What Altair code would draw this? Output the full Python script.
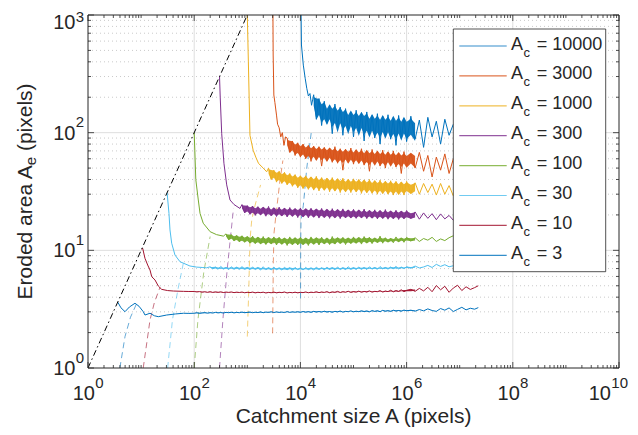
import altair as alt
import pandas as pd

W, H = 531, 353
FONT = "Liberation Sans"
INK = "#262626"

# ---------------- data ----------------
# sample positions (log10 of catchment size) shared by the noisy plateaus
LOG_A_GRID = [
    2.00, 2.05, 2.10, 2.15, 2.20, 2.25, 2.30, 2.35, 2.40, 2.45,
    2.50, 2.55, 2.60, 2.65, 2.70, 2.75, 2.80, 2.85, 2.90, 2.95,
    3.00, 3.05, 3.10, 3.15, 3.20, 3.25, 3.30, 3.35, 3.40, 3.45,
    3.50, 3.55, 3.60, 3.65, 3.70, 3.75, 3.80, 3.85, 3.90, 3.95,
    4.00, 4.05, 4.10, 4.15, 4.20, 4.25, 4.30, 4.35, 4.40, 4.45,
    4.50, 4.55, 4.60, 4.65, 4.70, 4.75, 4.80, 4.85, 4.90, 4.95,
    5.00, 5.05, 5.10, 5.15, 5.20, 5.25, 5.30, 5.35, 5.40, 5.45,
    5.50, 5.55, 5.60, 5.65, 5.70, 5.75, 5.80, 5.85, 5.90, 5.95,
    6.00, 6.08, 6.16, 6.24, 6.32, 6.40, 6.48, 6.56, 6.64, 6.72,
    6.80, 6.88, 6.96, 7.04, 7.12, 7.20, 7.28, 7.35,
]
DENSE_UNTIL = 6.16   # noise looks like a solid band up to about here

SERIES_AC = [10000, 3000, 1000, 300, 100, 30, 10, 3]
SERIES_COLOR = ["#0072BD", "#D95319", "#EDB120", "#7E2F8E",
                "#77AC30", "#4DBEEE", "#A2142F", "#0072BD"]
PLATEAU_START = [4.25, 3.75, 3.40, 2.90, 2.60, 2.30, 2.00, 2.00]

# initial drop from the diagonal (log10 A, A_e)
HEAD_10000 = [(4.0, 10000), (4.005, 2000), (4.02, 556), (4.055, 375), (4.09, 290),
              (4.12, 238), (4.15, 205), (4.18, 215), (4.21, 171), (4.23, 190)]
HEAD_3000 = [(3.477, 3000), (3.487, 457), (3.50, 209), (3.52, 180), (3.55, 141),
             (3.57, 118), (3.60, 110), (3.63, 92), (3.66, 100), (3.69, 78), (3.72, 92)]
HEAD_1000 = [(3.0, 1000), (3.02, 400), (3.05, 95), (3.11, 71), (3.16, 62),
             (3.21, 55), (3.26, 52), (3.30, 50), (3.365, 46.5)]
HEAD_300 = [(2.477, 300), (2.49, 200), (2.518, 98), (2.56, 55), (2.612, 36),
            (2.674, 26.8), (2.75, 24.5), (2.862, 22.7)]
HEAD_100 = [(2.0, 100), (2.012, 70), (2.03, 40), (2.077, 26.8), (2.11, 20.6),
            (2.17, 17.0), (2.30, 14.4), (2.42, 13.6), (2.55, 13.2)]
HEAD_30 = [(1.49, 30.9), (1.525, 20.6), (1.544, 14.9), (1.576, 11.5), (1.638, 9.12),
           (1.733, 8.0), (1.92, 7.36), (2.05, 7.2), (2.15, 7.15), (2.235, 7.1)]
HEAD_10 = [(1.01, 10.2), (1.03, 10.4), (1.073, 8.55), (1.124, 7.5), (1.168, 6.8),
           (1.20, 5.97), (1.262, 5.6), (1.324, 4.97), (1.387, 4.66), (1.50, 4.55),
           (1.607, 4.51), (1.80, 4.48), (1.90, 4.47)]
HEAD_3 = [(0.56, 3.63), (0.62, 3.25), (0.697, 3.01), (0.78, 3.3), (0.885, 3.55),
          (0.96, 3.35), (1.041, 3.01), (1.073, 2.82), (1.168, 2.92), (1.25, 2.78),
          (1.324, 2.73), (1.482, 2.82), (1.65, 2.88), (1.80, 2.92), (1.90, 2.91)]

# noisy plateaus, aligned with LOG_A_GRID from PLATEAU_START on
PLAT_10000 = [210, 130, 195, 115, 185, 120, 170, 98, 175, 110, 165, 95, 160, 105, 150, 92,
              155, 100, 148, 85, 150, 95, 140, 90, 145, 80, 138, 92, 142, 88, 135, 78, 140, 90, 132, 84,
              138, 88, 128, 75, 135, 92, 125, 80, 130, 95, 118, 110, 105, 100]
PLAT_3000 = [90, 68, 85, 64, 82, 62,
             80, 60, 78, 57, 77, 59, 76, 52, 75, 58, 74, 56, 76, 55, 73, 48, 72, 56, 74, 54,
             71, 55, 73, 53, 70, 47, 72, 54, 69, 52, 71, 50, 68, 53, 70, 51, 67, 45, 69, 52,
             66, 50, 68, 47, 64, 42, 62, 48, 66, 45, 60, 56, 58, 60]
PLAT_1000 = [50, 40, 48, 38, 47, 37, 46, 36, 45, 35, 44, 34, 43,
             33.5, 43, 33, 42, 32.5, 42.5, 32, 41.5, 32.5, 41, 31.5, 41.5, 32, 40.5, 31, 41, 31.5, 40, 31, 40.5,
             31.5, 40, 30.5, 39.5, 31, 40, 30.5, 39, 30, 39.5, 30.5, 38.5, 30, 39, 29.5, 38.5, 30, 38, 29.5, 38.5,
             30.5, 37.5, 30, 37, 31, 36.5, 29.5, 37, 30, 35.5, 29, 36, 33, 34]
PLAT_300 = [24.5, 20.8, 24.0,
            20.2, 23.8, 19.8, 23.5, 20.0, 23.2, 19.5, 23.6, 19.7, 22.9, 19.4, 23.3, 19.6, 22.8, 19.2, 23.1, 19.5, 22.6, 19.0, 22.9,
            19.3, 22.5, 18.9, 22.8, 19.2, 22.4, 18.8, 22.7, 19.1, 22.2, 18.7, 22.6, 19.0, 22.1, 18.6, 22.5, 18.9, 22.0, 18.8, 22.3,
            18.7, 21.9, 18.9, 22.4, 18.6, 21.8, 18.8, 22.1, 18.5, 21.7, 18.7, 22.2, 18.4, 21.6, 18.6, 21.9, 18.3, 21.5, 18.5, 21.8,
            18.6, 21.2, 18.4, 20.8, 18.7, 20.5, 18.2, 20.4, 18.5, 19.8, 18.0, 19.5, 19.2, 19.0]
PLAT_100 = [13.8, 12.3, 13.6, 12.0, 13.4, 11.8, 13.3, 11.7, 13.1,
            11.5, 13.2, 11.4, 12.9, 11.3, 13.1, 11.2, 12.8, 11.4, 13.0, 11.1, 12.9, 11.3, 12.7, 11.0, 13.0, 11.2, 12.8, 11.1, 12.9,
            11.2, 12.7, 11.0, 13.0, 11.3, 12.8, 11.1, 12.9, 11.4, 12.6, 11.2, 13.1, 11.3, 12.8, 11.5, 12.9, 11.2, 12.7, 11.4, 13.0,
            11.5, 12.8, 11.3, 13.1, 11.6, 12.9, 11.4, 12.7, 11.7, 13.2, 11.5, 12.8, 11.8, 12.6, 11.6, 13.0, 11.9, 12.7, 11.7, 12.9,
            12.0, 12.8, 11.9, 12.6, 12.2, 12.9, 11.9, 12.5, 12.1, 12.8, 13.3, 13.6, 13.5, 13.2]
PLAT_30 = [7.25, 6.95, 7.20, 6.90, 7.30, 6.95, 7.15, 6.85, 7.25, 6.92, 7.18, 6.88, 7.28, 6.90, 7.15,
           6.85, 7.22, 6.88, 7.12, 6.80, 7.25, 6.86, 7.10, 6.82, 7.20, 6.85, 7.08, 6.80, 7.18, 6.84, 7.12, 6.78, 7.15, 6.86, 7.05,
           6.82, 7.16, 6.85, 7.08, 6.80, 7.20, 6.88, 7.10, 6.83, 7.18, 6.90, 7.12, 6.84, 7.22, 6.88, 7.10, 6.86, 7.25, 6.90, 7.12,
           6.88, 7.20, 6.92, 7.15, 6.86, 7.24, 6.94, 7.12, 6.90, 7.28, 6.95, 7.15, 6.92, 7.22, 6.98, 7.30, 6.95, 7.18, 7.00, 7.25,
           7.05, 7.35, 7.08, 7.22, 7.45, 7.15, 7.60, 7.30, 7.55, 7.25, 7.40, 7.20, 7.30, 7.40, 7.35]
PLAT_10 = [4.47, 4.43, 4.46, 4.41, 4.44, 4.40, 4.45, 4.39, 4.43, 4.40, 4.44, 4.38, 4.42, 4.39, 4.43, 4.37, 4.41, 4.38, 4.42, 4.36, 4.40,
           4.37, 4.42, 4.35, 4.40, 4.37, 4.41, 4.34, 4.39, 4.36, 4.42, 4.35, 4.40, 4.37, 4.43, 4.34, 4.39, 4.36, 4.41, 4.35, 4.40,
           4.37, 4.43, 4.36, 4.41, 4.38, 4.45, 4.37, 4.42, 4.39, 4.46, 4.36, 4.43, 4.40, 4.48, 4.38, 4.44, 4.41, 4.49, 4.39, 4.45,
           4.42, 4.50, 4.40, 4.47, 4.43, 4.52, 4.41, 4.48, 4.45, 4.55, 4.42, 4.50, 4.46, 4.58, 4.44, 4.53, 4.48, 4.62, 4.45, 4.57,
           4.66, 4.48, 4.75, 4.52, 4.85, 4.45, 5.02, 4.62, 4.95, 4.40, 4.78, 5.05, 4.55, 4.90, 4.65, 4.82, 5.00]
PLAT_3 = [2.92, 2.95, 2.91, 2.94, 2.96, 2.92, 2.95, 2.93, 2.97, 2.94, 2.96, 2.93, 2.97, 2.95, 2.98, 2.94, 2.97, 2.95, 2.99, 2.95, 2.97,
          2.99, 2.95, 2.98, 2.96, 3.00, 2.95, 2.99, 2.97, 3.01, 2.96, 3.00, 2.97, 2.99, 2.96, 3.02, 2.97, 3.00, 2.98, 3.01, 2.97,
          3.02, 2.98, 3.01, 2.97, 3.03, 2.99, 3.02, 2.98, 3.04, 2.99, 3.02, 2.97, 3.03, 3.00, 3.05, 2.98, 3.03, 3.01, 3.06, 3.00,
          3.04, 3.01, 3.07, 3.02, 3.05, 3.00, 3.08, 3.03, 3.06, 3.01, 3.09, 3.04, 3.07, 3.02, 3.10, 3.05, 3.08, 3.03, 3.11, 3.06,
          3.10, 3.04, 3.14, 3.06, 3.18, 3.08, 3.03, 3.20, 3.10, 3.24, 3.02, 3.15, 3.28, 3.12, 3.22, 3.16, 3.26]

# dashed rising limbs (log10 A, A_e)
RISE_10000 = [(4.003, 3.9), (4.006, 12), (4.012, 18), (4.055, 24), (4.12, 50), (4.21, 105)]
RISE_3000 = [(3.477, 1.97), (3.49, 8), (3.503, 14), (3.54, 20), (3.616, 39.5), (3.67, 58)]
RISE_1000 = [(3.0, 1.85), (3.03, 5.0), (3.05, 12.2), (3.083, 18), (3.145, 24), (3.25, 36)]
RISE_300 = [(2.477, 1.0), (2.54, 2.56), (2.62, 6.8), (2.68, 12.5), (2.74, 22.7)]
RISE_100 = [(2.0, 1.0), (2.07, 2.56), (2.18, 6.5), (2.30, 13.1)]
RISE_30 = [(1.50, 1.0), (1.59, 2.56), (1.70, 4.8), (1.795, 7.76)]
RISE_10 = [(1.04, 1.0), (1.168, 2.56), (1.25, 3.6), (1.356, 4.85)]
RISE_3 = [(0.60, 1.0), (0.697, 1.85), (0.80, 2.7), (0.917, 3.54)]

HEADS = [HEAD_10000, HEAD_3000, HEAD_1000, HEAD_300, HEAD_100, HEAD_30, HEAD_10, HEAD_3]
PLATS = [PLAT_10000, PLAT_3000, PLAT_1000, PLAT_300, PLAT_100, PLAT_30, PLAT_10, PLAT_3]
RISES = [RISE_10000, RISE_3000, RISE_1000, RISE_300, RISE_100, RISE_30, RISE_10, RISE_3]

DIAG_A = [1, 1000]

X_MAJOR = [1, 1e2, 1e4, 1e6, 1e8, 1e10]
X_EXP = ["0", "2", "4", "6", "8", "10"]
Y_MAJOR = [1, 10, 100, 1000]
Y_EXP = ["0", "1", "2", "3"]
X_MINOR = [m * 10 ** k for k in range(10) for m in range(2, 10)] + [10 ** k for k in (1, 3, 5, 7, 9)]
Y_MINOR = [m * 10 ** k for k in range(3) for m in range(2, 10)]

# ---------------- chart ----------------
xs = alt.Scale(type="log", domain=[1, 1e10], nice=False)
ys = alt.Scale(type="log", domain=[1, 1000], nice=False)
DUMMY = pd.DataFrame({"k": [0]})


def X(f):
    return alt.X(f"{f}:Q", scale=xs, axis=None)


def Y(f):
    return alt.Y(f"{f}:Q", scale=ys, axis=None)


layers = []

# grid
layers.append(alt.Chart(pd.DataFrame({"v": Y_MINOR})).mark_rule(
    color="#BDBDBD", strokeWidth=0.8, strokeDash=[1, 3]).encode(
    y=Y("v"), x=alt.value(0), x2=alt.value(W)))
layers.append(alt.Chart(pd.DataFrame({"v": [10, 100]})).mark_rule(
    color="#DEDEDE", strokeWidth=1).encode(y=Y("v"), x=alt.value(0), x2=alt.value(W)))
layers.append(alt.Chart(pd.DataFrame({"v": X_MAJOR[1:-1]})).mark_rule(
    color="#DEDEDE", strokeWidth=1).encode(x=X("v"), y=alt.value(0), y2=alt.value(H)))

# series
for ac, col, head, start, plat, rise in zip(SERIES_AC, SERIES_COLOR, HEADS,
                                            PLATEAU_START, PLATS, RISES):
    idx = LOG_A_GRID.index(start)
    pts = list(head) + list(zip(LOG_A_GRID[idx:], plat))
    df = pd.DataFrame(pts, columns=["la", "ae"])
    df["A"] = 10 ** df["la"]
    df["o"] = range(len(df))
    # dense band: inner envelope of the plateau samples
    pl = pd.DataFrame(list(zip(LOG_A_GRID[idx:], plat)), columns=["la", "ae"])
    roll = pl["ae"].rolling(5, center=True, min_periods=2)
    pl["lo"] = roll.quantile(0.3)
    pl["hi"] = roll.quantile(0.7)
    pl["A"] = 10 ** pl["la"]
    pl = pl[pl["la"] <= DENSE_UNTIL]
    dr = pd.DataFrame(rise, columns=["la", "ae"])
    dr["A"] = 10 ** dr["la"]
    dr["o"] = range(len(dr))
    layers.append(alt.Chart(dr).mark_line(color=col, strokeWidth=1, opacity=0.6,
                                          strokeDash=[6, 4], clip=True).encode(
        x=X("A"), y=Y("ae"), order="o:Q"))
    layers.append(alt.Chart(pl).mark_area(color=col, opacity=0.95, clip=True).encode(
        x=X("A"), y=Y("lo"), y2=alt.Y2("hi")))
    layers.append(alt.Chart(df).mark_line(color=col, strokeWidth=1, clip=True).encode(
        x=X("A"), y=Y("ae"), order="o:Q"))

# diagonal A_e = A
ddf = pd.DataFrame({"A": DIAG_A, "ae": DIAG_A})
layers.append(alt.Chart(ddf).mark_line(color="black", strokeWidth=1,
                                       strokeDash=[6, 3, 1.5, 3], clip=True).encode(
    x=X("A"), y=Y("ae")))

# legend
LX0, LX1, LY0, LY1 = 365.3, 517.7, 14, 256.7
LEG_Y0, LEG_DY = 31, 29.9
layers.append(alt.Chart(DUMMY).mark_rect(fill="white", stroke=INK, strokeWidth=0.8).encode(
    x=alt.value(LX0), x2=alt.value(LX1), y=alt.value(LY0), y2=alt.value(LY1)))
for i, (ac, col) in enumerate(zip(SERIES_AC, SERIES_COLOR)):
    ly = LEG_Y0 + LEG_DY * i
    layers.append(alt.Chart(DUMMY).mark_rule(color=col, strokeWidth=1.2, opacity=0.8).encode(
        x=alt.value(371.3), x2=alt.value(418.7), y=alt.value(ly)))
    layers.append(alt.Chart(DUMMY).mark_text(text="A", font=FONT, fontSize=18, color=INK,
                                             align="left", baseline="alphabetic").encode(
        x=alt.value(423), y=alt.value(ly + 3.5)))
    layers.append(alt.Chart(DUMMY).mark_text(text="c", font=FONT, fontSize=13, color=INK,
                                             align="left", baseline="alphabetic").encode(
        x=alt.value(435.5), y=alt.value(ly + 10.5)))
    layers.append(alt.Chart(DUMMY).mark_text(text=f"= {ac}", font=FONT, fontSize=18, color=INK,
                                             align="left", baseline="alphabetic").encode(
        x=alt.value(448.7), y=alt.value(ly + 3.5)))

# inward ticks on all four sides
xmaj = pd.DataFrame({"v": X_MAJOR})
xmin = pd.DataFrame({"v": X_MINOR})
ymaj = pd.DataFrame({"v": Y_MAJOR})
ymin = pd.DataFrame({"v": Y_MINOR})
for d, ln in ((xmaj, 6), (xmin, 3)):
    layers.append(alt.Chart(d).mark_rule(color=INK, strokeWidth=0.8).encode(
        x=X("v"), y=alt.value(H), y2=alt.value(H - ln)))
    layers.append(alt.Chart(d).mark_rule(color=INK, strokeWidth=0.8).encode(
        x=X("v"), y=alt.value(0), y2=alt.value(ln)))
for d, ln in ((ymaj, 6), (ymin, 3)):
    layers.append(alt.Chart(d).mark_rule(color=INK, strokeWidth=0.8).encode(
        y=Y("v"), x=alt.value(0), x2=alt.value(ln)))
    layers.append(alt.Chart(d).mark_rule(color=INK, strokeWidth=0.8).encode(
        y=Y("v"), x=alt.value(W), x2=alt.value(W - ln)))

# frame
layers.append(alt.Chart(DUMMY).mark_rule(color=INK, strokeWidth=1).encode(
    x=alt.value(0), x2=alt.value(W), y=alt.value(0)))
layers.append(alt.Chart(DUMMY).mark_rule(color=INK, strokeWidth=1).encode(
    x=alt.value(0), x2=alt.value(W), y=alt.value(H)))
layers.append(alt.Chart(DUMMY).mark_rule(color=INK, strokeWidth=1).encode(
    y=alt.value(0), y2=alt.value(H), x=alt.value(0)))
layers.append(alt.Chart(DUMMY).mark_rule(color=INK, strokeWidth=1).encode(
    y=alt.value(0), y2=alt.value(H), x=alt.value(W)))

# tick labels 10^k
xl = pd.DataFrame({"v": X_MAJOR, "e": X_EXP})
xl1 = xl[xl["e"] != "10"]
xl2 = xl[xl["e"] == "10"]
for d, dx in ((xl1, 7), (xl2, -8)):
    layers.append(alt.Chart(d).mark_text(text="10", font=FONT, fontSize=20, color=INK,
                                         align="right", baseline="alphabetic", dx=dx).encode(
        x=X("v"), y=alt.value(H + 32.3)))
    layers.append(alt.Chart(d).mark_text(font=FONT, fontSize=15, color=INK,
                                         align="left", baseline="alphabetic", dx=dx + 0.3).encode(
        x=X("v"), y=alt.value(H + 20.3), text="e:N"))
yl = pd.DataFrame({"v": Y_MAJOR, "e": Y_EXP})
yl1 = yl[yl["e"] != "3"]
yl2 = yl[yl["e"] == "3"]
for d, dmain, dsup in ((yl1, 7, -5.3), (yl2, 13.5, 7.2)):
    layers.append(alt.Chart(d).mark_text(text="10", font=FONT, fontSize=20, color=INK,
                                         align="right", baseline="alphabetic", dy=dmain).encode(
        y=Y("v"), x=alt.value(-12.5)))
    layers.append(alt.Chart(d).mark_text(font=FONT, fontSize=15, color=INK,
                                         align="left", baseline="alphabetic", dy=dsup).encode(
        y=Y("v"), x=alt.value(-12.2), text="e:N"))

# axis titles
layers.append(alt.Chart(DUMMY).mark_text(text="Catchment size A (pixels)", font=FONT, fontSize=21,
                                         color=INK, align="center", baseline="alphabetic").encode(
    x=alt.value(W / 2), y=alt.value(H + 54.5)))
layers.append(alt.Chart(DUMMY).mark_text(text="Eroded area A", font=FONT, fontSize=21, color=INK,
                                         angle=270, align="right", baseline="alphabetic").encode(
    x=alt.value(-56.5), y=alt.value(150.2)))
layers.append(alt.Chart(DUMMY).mark_text(text="e", font=FONT, fontSize=15, color=INK,
                                         angle=270, align="left", baseline="alphabetic", dy=4.5).encode(
    x=alt.value(-56.5), y=alt.value(150.2)))
layers.append(alt.Chart(DUMMY).mark_text(text="(pixels)", font=FONT, fontSize=21, color=INK,
                                         angle=270, align="left", baseline="alphabetic").encode(
    x=alt.value(-56.5), y=alt.value(136.1)))

chart = alt.layer(*layers).properties(
    width=W, height=H,
    padding={"left": 80, "top": 7, "right": 11, "bottom": 59},
    autosize=alt.AutoSizeParams(type="none"),
    background="white",
).configure_view(stroke=None)

chart.save("out.html", embed_options={"renderer": "svg", "actions": False})
